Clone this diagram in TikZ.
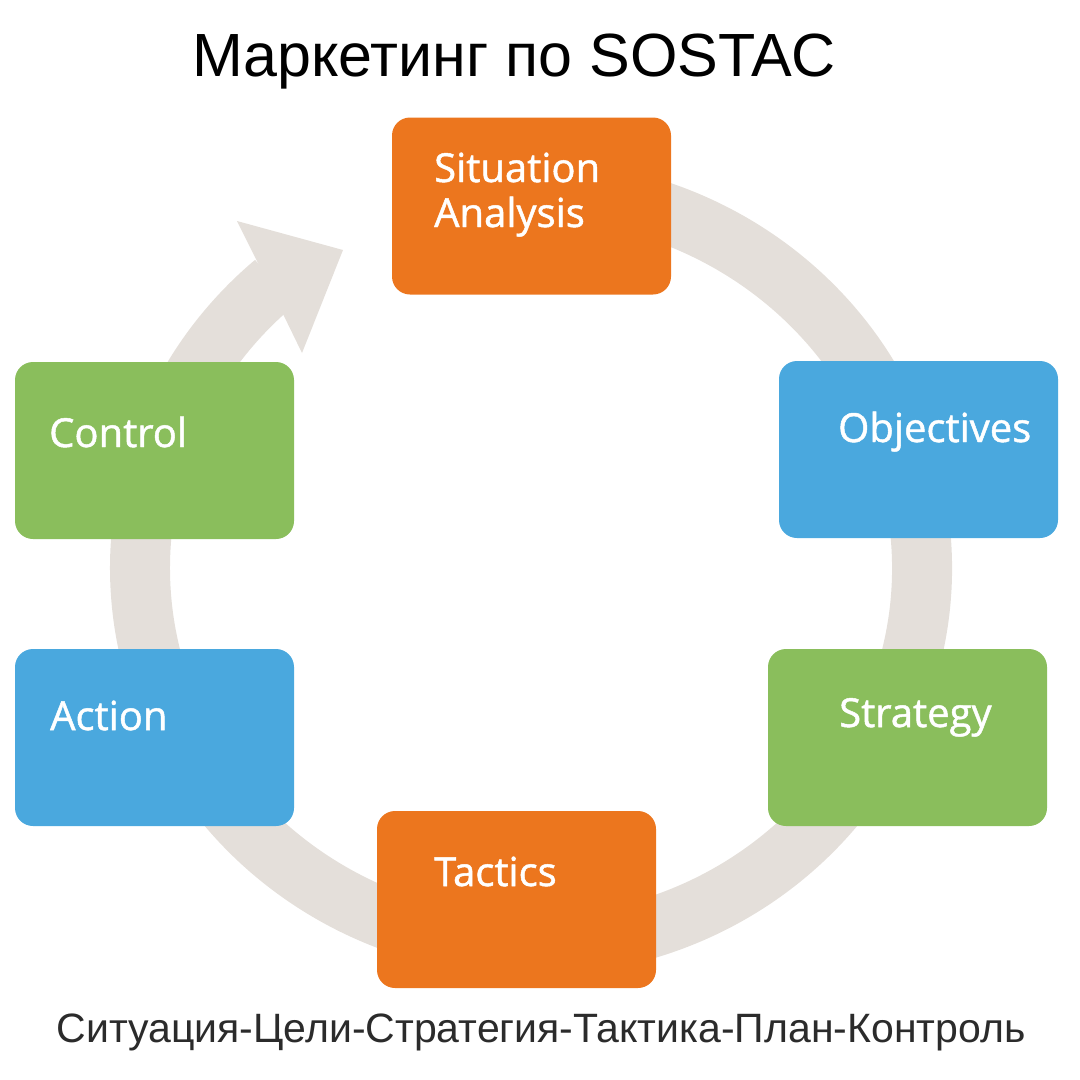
\documentclass[tikz,border=0pt]{standalone}
\usepackage{fontspec}
\setmainfont{Liberation Sans}
\newfontfamily\stagefont[FakeBold=1.2]{Open Sans}
\usetikzlibrary{positioning}

\definecolor{sostacorange}{RGB}{236,118,30}
\definecolor{sostacblue}{RGB}{74,168,222}
\definecolor{sostacgreen}{RGB}{138,190,92}
\definecolor{ringgray}{RGB}{228,223,218}
\definecolor{footgray}{RGB}{43,43,43}

\begin{document}
\begin{tikzpicture}[x=1pt,y=-1pt,
		stagebox/.style={rounded corners=18pt, minimum width=279pt, minimum height=177pt, inner sep=0pt},
		stagetext/.style={text=white, font=\stagefont\fontsize{40}{45}\selectfont, anchor=base west, inner sep=0pt, align=left}]
		% Canvas
		\useasboundingbox (0,0) rectangle (1080,1080);

		% Title
		\node[font=\fontsize{61}{72}\selectfont, anchor=base] (title) at (514,76) {Маркетинг по SOSTAC};

		% Cycle ring with arrow head
		\draw[ringgray, line width=60pt] (531,568) ++(-100:391 and 378) arc[start angle=-100, end angle=229, x radius=391, y radius=378];
		\fill[ringgray] (256,259) -- (237,221) -- (343,250) -- (302,353) -- (283,314) -- cycle;

		% Stages
		\node[stagebox, fill=sostacorange] (situation) at (531.5,206) {};
		\node[stagebox, fill=sostacblue] (objectives) at (918.5,449.5) {};
		\node[stagebox, fill=sostacgreen] (strategy) at (907.5,737.5) {};
		\node[stagebox, fill=sostacorange] (tactics) at (516.5,899.5) {};
		\node[stagebox, fill=sostacblue] (action) at (154.5,737.5) {};
		\node[stagebox, fill=sostacgreen] (control) at (154.5,450.5) {};

		% Labels (base of last line)
		\node[stagetext] (situation-label) at (434,227) {Situation\\Analysis};
		\node[stagetext] (objectives-label) at (838,442) {Objectives};
		\node[stagetext] (strategy-label) at (839,727) {Strategy};
		\node[stagetext] (tactics-label) at (434,886) {Tactics};
		\node[stagetext] (action-label) at (50,730) {Action};
		\node[stagetext] (control-label) at (49,447) {Control};

		% Footer
		\node[font=\fontsize{41}{48}\selectfont, text=footgray, anchor=base] (footer) at (541,1042) {Ситуация-Цели-Стратегия-Тактика-План-Контроль};
	\end{tikzpicture}
\end{document}
